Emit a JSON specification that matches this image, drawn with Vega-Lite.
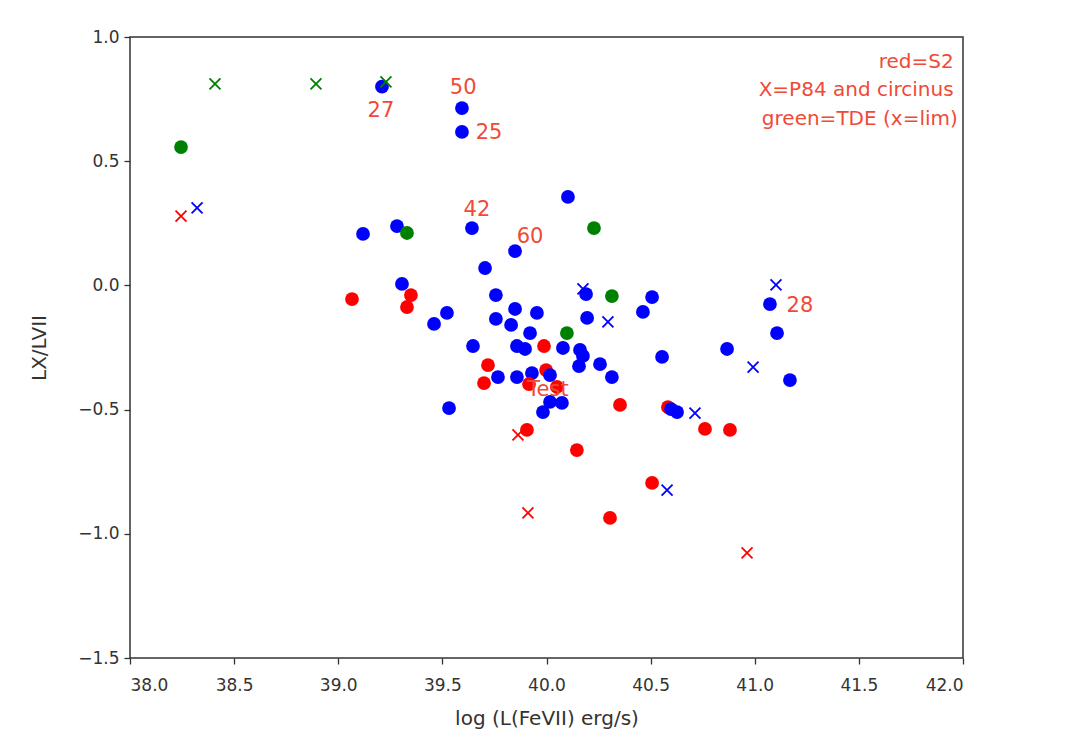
{
  "$schema": "https://vega.github.io/schema/vega-lite/v6.json",
  "autosize": {"type": "none"},
  "width": 833,
  "height": 621,
  "padding": {"left": 130, "top": 37, "right": 105, "bottom": 87},
  "background": "white",
  "config": {
    "view": {"stroke": "#333333", "strokeWidth": 1.5},
    "font": "DejaVu Sans",
    "axis": {
      "labelFont": "DejaVu Sans",
      "titleFont": "DejaVu Sans",
      "labelFontSize": 17,
      "titleFontSize": 20,
      "labelColor": "#333333",
      "titleColor": "#333333",
      "titleFontWeight": "normal",
      "tickColor": "#333333",
      "tickSize": 6,
      "tickWidth": 1.3,
      "grid": false,
      "domain": false
    }
  },
  "datasets": {
    "pts": [
      {"x": 39.21, "y": 0.80, "grp": "S1", "mk": "o"},
      {"x": 39.594, "y": 0.714, "grp": "S1", "mk": "o"},
      {"x": 39.594, "y": 0.618, "grp": "S1", "mk": "o"},
      {"x": 40.103, "y": 0.356, "grp": "S1", "mk": "o"},
      {"x": 39.119, "y": 0.207, "grp": "S1", "mk": "o"},
      {"x": 39.282, "y": 0.239, "grp": "S1", "mk": "o"},
      {"x": 39.642, "y": 0.231, "grp": "S1", "mk": "o"},
      {"x": 39.849, "y": 0.138, "grp": "S1", "mk": "o"},
      {"x": 39.705, "y": 0.070, "grp": "S1", "mk": "o"},
      {"x": 39.306, "y": 0.006, "grp": "S1", "mk": "o"},
      {"x": 39.522, "y": -0.111, "grp": "S1", "mk": "o"},
      {"x": 39.460, "y": -0.155, "grp": "S1", "mk": "o"},
      {"x": 39.757, "y": -0.039, "grp": "S1", "mk": "o"},
      {"x": 39.849, "y": -0.095, "grp": "S1", "mk": "o"},
      {"x": 39.954, "y": -0.111, "grp": "S1", "mk": "o"},
      {"x": 39.757, "y": -0.135, "grp": "S1", "mk": "o"},
      {"x": 39.830, "y": -0.159, "grp": "S1", "mk": "o"},
      {"x": 39.921, "y": -0.192, "grp": "S1", "mk": "o"},
      {"x": 39.647, "y": -0.244, "grp": "S1", "mk": "o"},
      {"x": 39.858, "y": -0.244, "grp": "S1", "mk": "o"},
      {"x": 39.897, "y": -0.256, "grp": "S1", "mk": "o"},
      {"x": 40.079, "y": -0.252, "grp": "S1", "mk": "o"},
      {"x": 40.161, "y": -0.260, "grp": "S1", "mk": "o"},
      {"x": 40.175, "y": -0.284, "grp": "S1", "mk": "o"},
      {"x": 40.156, "y": -0.325, "grp": "S1", "mk": "o"},
      {"x": 40.257, "y": -0.317, "grp": "S1", "mk": "o"},
      {"x": 40.314, "y": -0.369, "grp": "S1", "mk": "o"},
      {"x": 40.190, "y": -0.035, "grp": "S1", "mk": "o"},
      {"x": 40.195, "y": -0.131, "grp": "S1", "mk": "o"},
      {"x": 39.767, "y": -0.369, "grp": "S1", "mk": "o"},
      {"x": 39.858, "y": -0.369, "grp": "S1", "mk": "o"},
      {"x": 39.930, "y": -0.353, "grp": "S1", "mk": "o"},
      {"x": 40.017, "y": -0.469, "grp": "S1", "mk": "o"},
      {"x": 40.074, "y": -0.473, "grp": "S1", "mk": "o"},
      {"x": 39.983, "y": -0.510, "grp": "S1", "mk": "o"},
      {"x": 39.532, "y": -0.494, "grp": "S1", "mk": "o"},
      {"x": 41.073, "y": -0.075, "grp": "S1", "mk": "o"},
      {"x": 41.107, "y": -0.192, "grp": "S1", "mk": "o"},
      {"x": 40.867, "y": -0.256, "grp": "S1", "mk": "o"},
      {"x": 41.169, "y": -0.381, "grp": "S1", "mk": "o"},
      {"x": 40.507, "y": -0.047, "grp": "S1", "mk": "o"},
      {"x": 40.463, "y": -0.107, "grp": "S1", "mk": "o"},
      {"x": 40.555, "y": -0.288, "grp": "S1", "mk": "o"},
      {"x": 39.066, "y": -0.055, "grp": "S2", "mk": "o"},
      {"x": 39.349, "y": -0.039, "grp": "S2", "mk": "o"},
      {"x": 39.330, "y": -0.087, "grp": "S2", "mk": "o"},
      {"x": 39.719, "y": -0.321, "grp": "S2", "mk": "o"},
      {"x": 39.700, "y": -0.393, "grp": "S2", "mk": "o"},
      {"x": 39.988, "y": -0.244, "grp": "S2", "mk": "o"},
      {"x": 39.998, "y": -0.341, "grp": "S2", "mk": "o"},
      {"x": 39.916, "y": -0.397, "grp": "S2", "mk": "o"},
      {"x": 40.050, "y": -0.409, "grp": "S2", "mk": "o"},
      {"x": 39.906, "y": -0.582, "grp": "S2", "mk": "o"},
      {"x": 40.146, "y": -0.663, "grp": "S2", "mk": "o"},
      {"x": 40.353, "y": -0.481, "grp": "S2", "mk": "o"},
      {"x": 40.583, "y": -0.490, "grp": "S2", "mk": "o"},
      {"x": 40.761, "y": -0.578, "grp": "S2", "mk": "o"},
      {"x": 40.881, "y": -0.582, "grp": "S2", "mk": "o"},
      {"x": 40.507, "y": -0.795, "grp": "S2", "mk": "o"},
      {"x": 40.305, "y": -0.936, "grp": "S2", "mk": "o"},
      {"x": 40.017, "y": -0.361, "grp": "S1", "mk": "o"},
      {"x": 40.598, "y": -0.498, "grp": "S1", "mk": "o"},
      {"x": 40.627, "y": -0.510, "grp": "S1", "mk": "o"},
      {"x": 38.245, "y": 0.557, "grp": "TDE", "mk": "o"},
      {"x": 39.330, "y": 0.211, "grp": "TDE", "mk": "o"},
      {"x": 40.228, "y": 0.231, "grp": "TDE", "mk": "o"},
      {"x": 40.098, "y": -0.192, "grp": "TDE", "mk": "o"},
      {"x": 40.314, "y": -0.043, "grp": "TDE", "mk": "o"},
      {"x": 38.322, "y": 0.312, "grp": "S1", "mk": "x"},
      {"x": 40.175, "y": -0.014, "grp": "S1", "mk": "x"},
      {"x": 40.295, "y": -0.147, "grp": "S1", "mk": "x"},
      {"x": 41.102, "y": 0.002, "grp": "S1", "mk": "x"},
      {"x": 40.992, "y": -0.329, "grp": "S1", "mk": "x"},
      {"x": 40.713, "y": -0.514, "grp": "S1", "mk": "x"},
      {"x": 40.579, "y": -0.824, "grp": "S1", "mk": "x"},
      {"x": 38.245, "y": 0.279, "grp": "S2", "mk": "x"},
      {"x": 39.863, "y": -0.602, "grp": "S2", "mk": "x"},
      {"x": 39.911, "y": -0.916, "grp": "S2", "mk": "x"},
      {"x": 40.963, "y": -1.077, "grp": "S2", "mk": "x"},
      {"x": 38.408, "y": 0.811, "grp": "TDE", "mk": "x"},
      {"x": 38.893, "y": 0.811, "grp": "TDE", "mk": "x"},
      {"x": 39.229, "y": 0.819, "grp": "TDE", "mk": "x"}
    ],
    "labels": [
      {"x": 39.600, "y": 0.795, "t": "50"},
      {"x": 39.205, "y": 0.702, "t": "27"},
      {"x": 39.724, "y": 0.613, "t": "25"},
      {"x": 39.666, "y": 0.304, "t": "42"},
      {"x": 39.921, "y": 0.195, "t": "60"},
      {"x": 41.217, "y": -0.083, "t": "28"},
      {"x": 40.007, "y": -0.421, "t": "Test"}
    ],
    "legend": [
      {"x": 41.955, "y": 0.899, "t": "red=S2"},
      {"x": 41.955, "y": 0.787, "t": "X=P84 and circinus"},
      {"x": 41.975, "y": 0.670, "t": "green=TDE (x=lim)"}
    ]
  },
  "encoding": {
    "x": {
      "field": "x", "type": "quantitative",
      "scale": {"domain": [38, 42], "nice": false, "zero": false},
      "axis": {"values": [38, 38.5, 39, 39.5, 40, 40.5, 41, 41.5, 42], "format": ".1f", "title": "log (L(FeVII) erg/s)", "labelPadding": 13, "titlePadding": 15}
    },
    "y": {
      "field": "y", "type": "quantitative",
      "scale": {"domain": [-1.5, 1.0], "nice": false, "zero": false},
      "axis": {"values": [-1.5, -1.0, -0.5, 0.0, 0.5, 1.0], "format": ".1f", "title": "LX/LVII", "labelPadding": 5, "titlePadding": 28}
    }
  },
  "layer": [
    {
      "data": {"name": "pts"},
      "transform": [{"filter": "datum.mk === 'o'"}],
      "mark": {"type": "point", "shape": "circle", "filled": true, "opacity": 1, "size": 190},
      "encoding": {
        "color": {"field": "grp", "type": "nominal", "legend": null,
          "scale": {"domain": ["S1", "S2", "TDE"], "range": ["#0000ff", "#ff0000", "#008000"]}}
      }
    },
    {
      "data": {"name": "pts"},
      "transform": [{"filter": "datum.mk === 'x'"}],
      "mark": {"type": "point", "shape": "M-1,-1L1,1M1,-1L-1,1", "filled": false, "opacity": 1, "size": 120, "strokeWidth": 1.8},
      "encoding": {
        "color": {"field": "grp", "type": "nominal", "legend": null,
          "scale": {"domain": ["S1", "S2", "TDE"], "range": ["#0000ff", "#ff0000", "#008000"]}}
      }
    },
    {
      "data": {"name": "labels"},
      "mark": {"type": "text", "align": "center", "baseline": "middle", "fontSize": 21, "color": "#f04a36", "font": "DejaVu Sans"},
      "encoding": {"text": {"field": "t"}}
    },
    {
      "data": {"name": "legend"},
      "mark": {"type": "text", "align": "right", "baseline": "middle", "fontSize": 20, "color": "#f04a36", "font": "DejaVu Sans"},
      "encoding": {"text": {"field": "t"}}
    }
  ]
}
